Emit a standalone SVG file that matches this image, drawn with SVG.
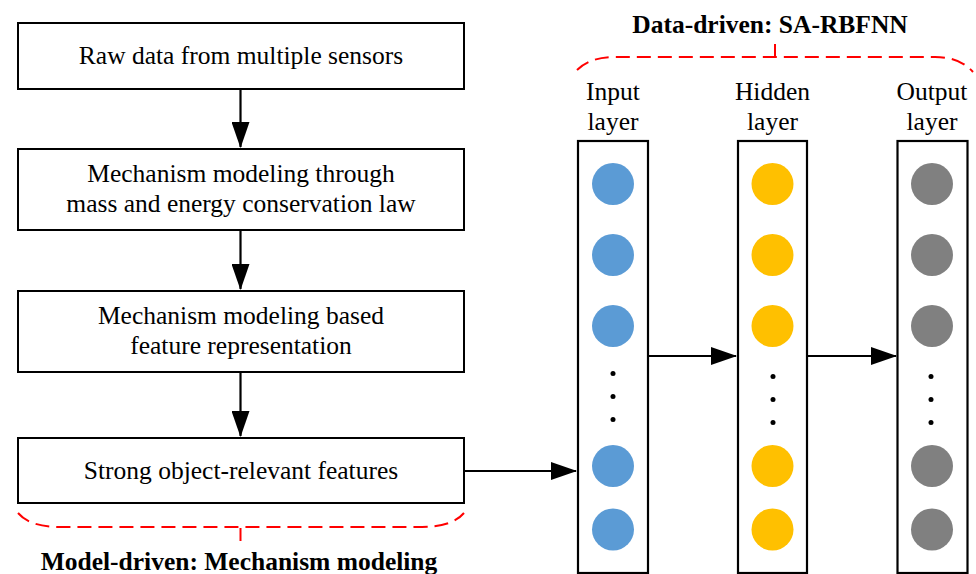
<svg xmlns="http://www.w3.org/2000/svg" width="976" height="574" viewBox="0 0 976 574">
  <style>
    .box { fill: #ffffff; stroke: #000000; stroke-width: 2; }
    .col { fill: #ffffff; stroke: #000000; stroke-width: 2.2; }
    .txt { font-family: 'Liberation Serif', serif; font-size: 25.5px; fill: #000000; text-anchor: middle; }
    .title { font-family: 'Liberation Serif', serif; font-size: 25.5px; font-weight: bold; fill: #000000; text-anchor: middle; }
    .link { fill: none; stroke: #000000; stroke-width: 2.2; marker-end: url(#head); }
    .brace { fill: none; stroke: #ff0000; stroke-width: 2; stroke-dasharray: 14 7; }
    .tick { fill: none; stroke: #ff0000; stroke-width: 2; }
    .in { fill: #5b9bd5; }
    .hid { fill: #ffc000; }
    .out { fill: #808080; }
    .dot { fill: #000000; }
  </style>
  <defs>
    <marker id="head" markerUnits="userSpaceOnUse" markerWidth="26" markerHeight="18" refX="25" refY="9" orient="auto">
      <path d="M0,0 L26,9 L0,18 Z" fill="#000000"/>
    </marker>
  </defs>

  <!-- Model-driven flow -->
  <g id="raw-data">
    <rect class="box" x="18" y="23" width="446" height="66"/>
    <text class="txt" x="241" y="64">Raw data from multiple sensors</text>
  </g>
  <g id="mechanism-conservation">
    <rect class="box" x="18" y="149" width="446" height="81"/>
    <text class="txt" x="241" y="182">Mechanism modeling through</text>
    <text class="txt" x="241" y="212">mass and energy conservation law</text>
  </g>
  <g id="feature-representation">
    <rect class="box" x="18" y="291" width="446" height="81"/>
    <text class="txt" x="241" y="324">Mechanism modeling based</text>
    <text class="txt" x="241" y="354">feature representation</text>
  </g>
  <g id="relevant-features">
    <rect class="box" x="18" y="438" width="446" height="65"/>
    <text class="txt" x="241" y="479">Strong object-relevant features</text>
  </g>
  <g id="model-driven-label">
    <path class="brace" d="M18,513 Q30,527 60,527 L422,527 Q452,527 464,513"/>
    <line class="tick" x1="240.5" y1="528" x2="240.5" y2="541"/>
    <text class="title" x="239" y="570">Model-driven: Mechanism modeling</text>
  </g>

  <!-- Data-driven network -->
  <g id="data-driven-label">
    <path class="brace" d="M577,70 Q590,57 615,57 L935,57 Q960,57 973,72"/>
    <line class="tick" x1="775" y1="44" x2="775" y2="57"/>
    <text class="title" x="770" y="33">Data-driven: SA-RBFNN</text>
  </g>
  <g id="input-layer">
    <text class="txt" x="613" y="100">Input</text>
    <text class="txt" x="613" y="130">layer</text>
    <rect class="col" x="578" y="141" width="70" height="432"/>
    <circle class="in" cx="613" cy="184" r="21"/>
    <circle class="in" cx="613" cy="255" r="21"/>
    <circle class="in" cx="613" cy="326" r="21"/>
    <circle class="dot" cx="613" cy="373.5" r="2.5"/>
    <circle class="dot" cx="613" cy="396.5" r="2.5"/>
    <circle class="dot" cx="613" cy="419.5" r="2.5"/>
    <circle class="in" cx="613" cy="466" r="21"/>
    <circle class="in" cx="613" cy="529.5" r="21"/>
  </g>
  <g id="hidden-layer">
    <text class="txt" x="772.5" y="100">Hidden</text>
    <text class="txt" x="772.5" y="130">layer</text>
    <rect class="col" x="738" y="141" width="69" height="432"/>
    <circle class="hid" cx="772.5" cy="184" r="21"/>
    <circle class="hid" cx="772.5" cy="255" r="21"/>
    <circle class="hid" cx="772.5" cy="326" r="21"/>
    <circle class="dot" cx="773" cy="376.5" r="2.5"/>
    <circle class="dot" cx="773" cy="399.5" r="2.5"/>
    <circle class="dot" cx="773" cy="422.5" r="2.5"/>
    <circle class="hid" cx="772.5" cy="466" r="21"/>
    <circle class="hid" cx="772.5" cy="529.5" r="21"/>
  </g>
  <g id="output-layer">
    <text class="txt" x="932" y="100">Output</text>
    <text class="txt" x="932" y="130">layer</text>
    <rect class="col" x="897.5" y="141" width="70" height="432"/>
    <circle class="out" cx="932" cy="184" r="21"/>
    <circle class="out" cx="932" cy="255" r="21"/>
    <circle class="out" cx="932" cy="326" r="21"/>
    <circle class="dot" cx="931" cy="376.5" r="2.5"/>
    <circle class="dot" cx="931" cy="399.5" r="2.5"/>
    <circle class="dot" cx="931" cy="422.5" r="2.5"/>
    <circle class="out" cx="932" cy="466" r="21"/>
    <circle class="out" cx="932" cy="529.5" r="21"/>
  </g>

  <!-- Connectors -->
  <g id="connectors">
    <line class="link" x1="240.5" y1="89" x2="240.5" y2="147"/>
    <line class="link" x1="240.5" y1="230" x2="240.5" y2="289"/>
    <line class="link" x1="240.5" y1="372" x2="240.5" y2="436"/>
    <line class="link" x1="464" y1="471" x2="576" y2="471"/>
    <line class="link" x1="648" y1="356" x2="736" y2="356"/>
    <line class="link" x1="807" y1="356" x2="896" y2="356"/>
  </g>
</svg>
